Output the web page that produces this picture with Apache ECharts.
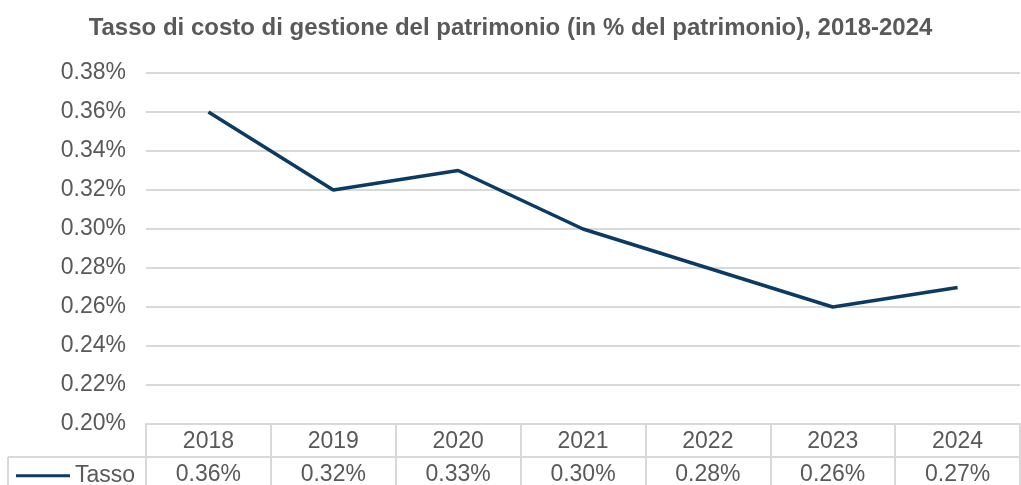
<!DOCTYPE html>
<html>

<head>
    <title>Tasso di costo di gestione</title>
    <script src="https://cdn.jsdelivr.net/npm/echarts@6/dist/echarts.min.js"></script>
    <style>
        body { margin: 0; background: #fff; }
        #myChart { width: 1021px; height: 485px; }
    </style>
</head>

<body>
    <div id="myChart"></div>

    <script>
        // chart data (values in % of assets)
        const years = ['2018', '2019', '2020', '2021', '2022', '2023', '2024'];
        const tasso = [0.36, 0.32, 0.33, 0.30, 0.28, 0.26, 0.27];
        const seriesName = 'Tasso';
        const titleText = 'Tasso di costo di gestione del patrimonio (in % del patrimonio), 2018-2024';

        // y axis range, in hundredths of a percent
        const yMin = 20, yMax = 38, yStep = 2;

        const textColor = '#595959';
        const gridColor = '#d9d9d9';
        const lineColor = '#0b3a63';
        const fontFamily = '"Liberation Sans", Arial, sans-serif';

        const toAxis = v => Math.round(v * 100);
        const fmtPct = v => (v / 100).toFixed(2) + '%';

        const myChart = echarts.init(document.getElementById('myChart'));

        const yLabel = { color: textColor, fontSize: 23, fontFamily: fontFamily, margin: 20, hideOverlap: false };

        const option = {
            animation: false,
            title: {
                text: titleText,
                left: 'center',
                top: 8,
                padding: 0,
                textStyle: { color: textColor, fontSize: 24, fontWeight: 'bold', fontFamily: fontFamily }
            },
            legend: {
                data: [{ name: seriesName, icon: 'rect' }],
                left: 16,
                top: 456,
                padding: 0,
                itemWidth: 54,
                itemHeight: 3,
                itemGap: 0,
                textStyle: { color: textColor, fontSize: 23, fontFamily: fontFamily }
            },
            grid: { left: 146, right: 1, top: 73, bottom: 61, outerBoundsMode: 'none', containLabel: false },
            xAxis: [
                {
                    type: 'category',
                    data: years,
                    boundaryGap: true,
                    axisLine: { lineStyle: { color: gridColor, width: 2 } },
                    axisTick: { show: true, length: 62, lineStyle: { color: gridColor, width: 2 } },
                    axisLabel: { color: textColor, fontSize: 23, fontFamily: fontFamily, margin: -2 }
                },
                {
                    type: 'category',
                    data: years,
                    position: 'bottom',
                    offset: 33,
                    axisLine: { lineStyle: { color: gridColor, width: 2 } },
                    axisTick: { show: false },
                    axisLabel: {
                        color: textColor, fontSize: 23, fontFamily: fontFamily, margin: -2,
                        formatter: (v, i) => tasso[i].toFixed(2) + '%'
                    }
                }
            ],
            yAxis: [
                {
                    // inner tick labels + gridlines
                    type: 'value',
                    min: yMin, max: yMax, interval: yStep,
                    axisLine: { show: false },
                    axisTick: { show: false },
                    splitLine: { lineStyle: { color: gridColor, width: 2 } },
                    axisLabel: Object.assign({}, yLabel, { formatter: fmtPct })
                },
                {
                    // min / max labels only
                    type: 'value',
                    position: 'left',
                    min: yMin, max: yMax, interval: yStep,
                    axisLine: { show: false },
                    axisTick: { show: false },
                    splitLine: { show: false },
                    axisLabel: Object.assign({}, yLabel, {
                        showMinLabel: true, showMaxLabel: true,
                        formatter: v => (v === yMin || v === yMax) ? fmtPct(v) : ''
                    })
                }
            ],
            graphic: [
                // table border around the legend key cell
                { type: 'line', shape: { x1: 8, y1: 457, x2: 146, y2: 457 }, style: { stroke: gridColor, lineWidth: 2 } },
                { type: 'line', shape: { x1: 8, y1: 457, x2: 8, y2: 485 }, style: { stroke: gridColor, lineWidth: 2 } }
            ],
            series: [{
                name: seriesName,
                type: 'line',
                data: tasso.map(toAxis),
                showSymbol: false,
                symbol: 'none',
                lineStyle: { color: lineColor, width: 3.5 },
                itemStyle: { color: lineColor }
            }]
        };

        myChart.setOption(option);
    </script>
</body>

</html>
